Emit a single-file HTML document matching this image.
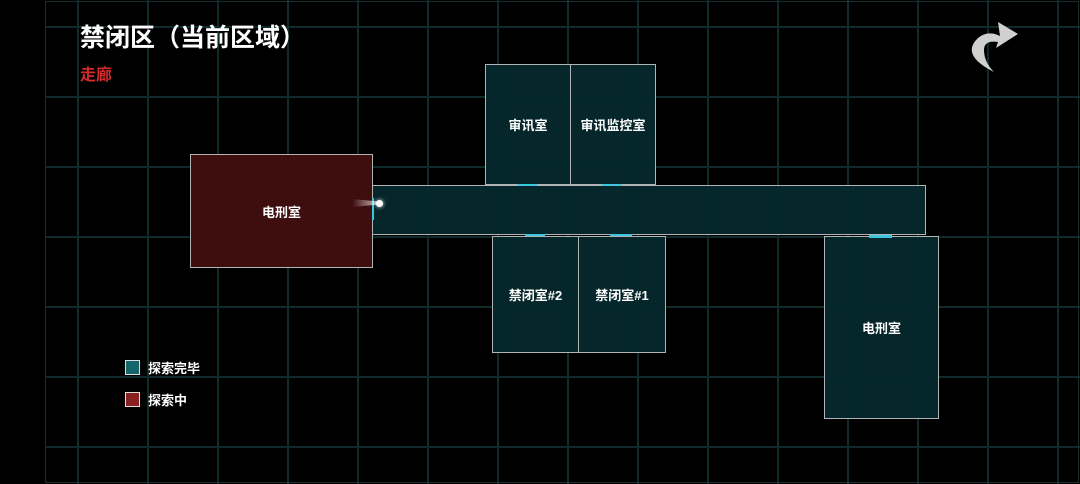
<!DOCTYPE html>
<html><head><meta charset="utf-8"><style>
body{margin:0;width:1080px;height:484px;overflow:hidden;background:#000;font-family:"Liberation Sans","Noto Sans CJK SC",sans-serif;}
.wrap{position:absolute;left:0;top:0;width:1080px;height:484px;}
.frame{position:absolute;left:45px;top:1px;width:1032px;height:480px;border:1px solid #17302f;}
.r{position:absolute;box-sizing:border-box;border:1.5px solid #b0b4b4;background:rgba(5,40,44,0.95);color:#fff;font-weight:bold;font-size:13px;display:flex;align-items:center;justify-content:center;}
.red{background:#3e0d0d;}
.d{position:absolute;background:#3cc6de;}
</style></head><body><div class="wrap">
<svg width="1080" height="484" style="position:absolute;left:0;top:0">
<g stroke="#0f2a2d" stroke-width="2">
<line x1="78" y1="0" x2="78" y2="484"/><line x1="148" y1="0" x2="148" y2="484"/><line x1="218" y1="0" x2="218" y2="484"/><line x1="288" y1="0" x2="288" y2="484"/><line x1="358" y1="0" x2="358" y2="484"/><line x1="428" y1="0" x2="428" y2="484"/><line x1="498" y1="0" x2="498" y2="484"/><line x1="568" y1="0" x2="568" y2="484"/><line x1="638" y1="0" x2="638" y2="484"/><line x1="708" y1="0" x2="708" y2="484"/><line x1="778" y1="0" x2="778" y2="484"/><line x1="848" y1="0" x2="848" y2="484"/><line x1="918" y1="0" x2="918" y2="484"/><line x1="988" y1="0" x2="988" y2="484"/><line x1="1058" y1="0" x2="1058" y2="484"/>
<line x1="45" y1="27" x2="1080" y2="27"/><line x1="45" y1="97" x2="1080" y2="97"/><line x1="45" y1="167" x2="1080" y2="167"/><line x1="45" y1="237" x2="1080" y2="237"/><line x1="45" y1="307" x2="1080" y2="307"/><line x1="45" y1="377" x2="1080" y2="377"/><line x1="45" y1="447" x2="1080" y2="447"/>
</g>
<path d="M994 72 Q960 55 978 38 Q988 30 1000 36 L998 22 L1018 34 L996 48 L998 42 Q984 40 984 50 Q984 62 994 72 Z" fill="#d0d0d0"/>
</svg>
<div class="frame"></div>
<div style="position:absolute;left:80px;top:18px;color:#fff;font-size:25px;font-weight:bold">禁闭区（当前区域）</div>
<div style="position:absolute;left:80px;top:61px;color:#d42a2a;font-size:16px;font-weight:bold">走廊</div>
<div class="r" style="left:485px;top:64px;width:86px;height:121px">审讯室</div>
<div class="r" style="left:570px;top:64px;width:86px;height:121px">审讯监控室</div>
<div class="r red" style="left:190px;top:154px;width:183px;height:114px">电刑室</div>
<div class="r" style="left:372px;top:185px;width:554px;height:50px"></div>
<div class="r" style="left:492px;top:236px;width:87px;height:117px">禁闭室#2</div>
<div class="r" style="left:578px;top:236px;width:88px;height:117px">禁闭室#1</div>
<div class="r" style="left:824px;top:236px;width:115px;height:183px">电刑室</div>
<div class="d" style="left:517px;top:184px;width:20px;height:2px"></div>
<div class="d" style="left:602px;top:184px;width:20px;height:2px"></div>
<div class="d" style="left:525px;top:234px;width:20px;height:2px"></div>
<div class="d" style="left:610px;top:234px;width:22px;height:2px"></div>
<div class="d" style="left:869px;top:235px;width:23px;height:3px"></div>
<div class="d" style="left:372px;top:198px;width:2px;height:22px"></div>
<div style="position:absolute;left:352px;top:199px;width:26px;height:8px;background:linear-gradient(90deg,rgba(255,255,255,0),rgba(255,255,255,0.7));clip-path:polygon(0 0,100% 30%,100% 70%,0 100%)"></div>
<div style="position:absolute;left:376px;top:200px;width:7px;height:7px;border-radius:50%;background:#fff;box-shadow:0 0 4px #fff"></div>
<div style="position:absolute;left:125px;top:360px;width:15px;height:15px;background:#14666c;border:1.5px solid #ddd;box-sizing:border-box"></div>
<div style="position:absolute;left:148px;top:358px;color:#fff;font-size:13px;font-weight:bold">探索完毕</div>
<div style="position:absolute;left:125px;top:392px;width:15px;height:15px;background:#8a1f1f;border:1.5px solid #ddd;box-sizing:border-box"></div>
<div style="position:absolute;left:148px;top:390px;color:#fff;font-size:13px;font-weight:bold">探索中</div>
</div></body></html>
